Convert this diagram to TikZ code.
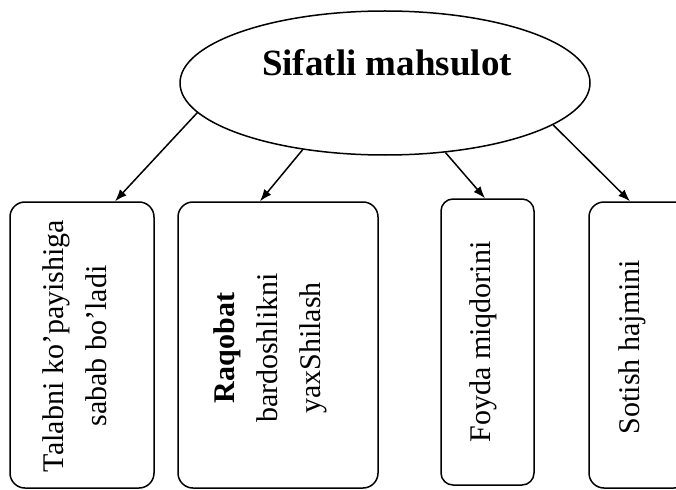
\documentclass[tikz,border=0pt]{standalone}
\usepackage{fontspec}
\setmainfont{Liberation Serif}
\usetikzlibrary{shapes.geometric, arrows.meta}

\tikzset{
    kutu/.style = {draw, rounded corners = 15pt, line width = 1.5pt, inner sep = 0pt, minimum height = 286pt},
    yozuv/.style = {rotate = 90, inner sep = 0pt, font = \fontsize{30}{43}\selectfont, align = center},
    strelka/.style = {-{Latex[length = 12pt, width = 9pt]}, line width = 1.5pt}
}

\begin{document}
\begin{tikzpicture}[x = 1pt, y = -1pt]
    \useasboundingbox (0, 0) rectangle (676, 489);
    \clip (0, 0) rectangle (676, 489);

    \node[draw, ellipse, line width = 1.5pt, minimum width = 410pt, minimum height = 144pt, inner sep = 0pt] (sifat) at (385, 83) {};
    \node[] (sarlavha) at (387, 63) {\fontsize{37}{40}\selectfont\bfseries Sifatli mahsulot};

    % kutular
    \node[kutu, minimum width = 144pt] (talab) at (82, 345) {};
    \node[kutu, minimum width = 200pt] (raqobat) at (278, 345) {};
    \node[kutu, rounded corners = 12pt, minimum width = 93pt] (foyda) at (487.5, 342) {};
    \node[kutu, minimum width = 100pt] (sotish) at (639, 345) {};

    \node[yozuv] (talabT) at (75, 346) {Talabni ko'payishiga\\ sabab bo'ladi};
    \node[yozuv] (raqobatT) at (270, 348) {\textbf{Raqobat}\\ bardoshlikni\\ yaxShilash};
    \node[yozuv] (foydaT) at (483, 342) {Foyda miqdorini};
    \node[yozuv] (sotishT) at (632, 347) {Sotish hajmini};

    \draw[strelka] (sifat.189.9) -- ([xshift = 33pt]talab.north);
    \draw[strelka] (sifat.219.2) -- ([xshift = -18pt]raqobat.north);
    \draw[strelka] (sifat.311) -- ([xshift = -2.5pt]foyda.north);
    \draw[strelka] (sifat.346.9) -- ([xshift = -9pt]sotish.north);
\end{tikzpicture}
\end{document}
